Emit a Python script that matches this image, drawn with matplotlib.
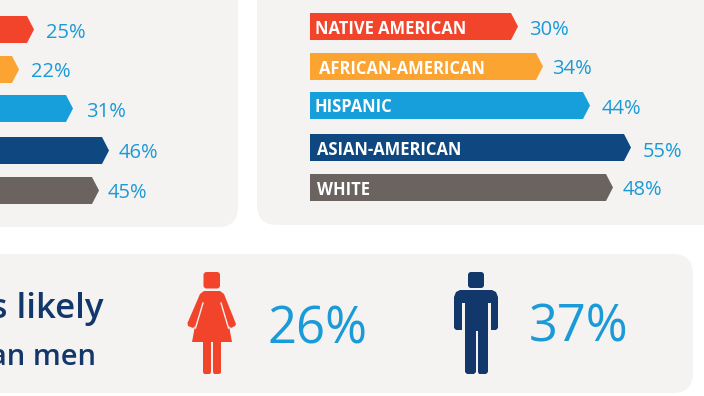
"""Bars by group and the women/men comparison, laid out on a pixel canvas."""
import matplotlib
matplotlib.use('Agg')
import matplotlib.pyplot as plt
from matplotlib.patches import FancyBboxPatch, Polygon


# Left panel is cropped by the frame, only the values are visible
left_values = [25, 22, 31, 46, 45]
left_bar_len = [94, 79, 133, 169, 159]

groups = ['NATIVE AMERICAN', 'AFRICAN-AMERICAN', 'HISPANIC', 'ASIAN-AMERICAN', 'WHITE']
right_values = [30, 34, 44, 55, 48]
right_bar_len = [208, 233, 280, 321, 303]

women_value = 26
men_value = 37

BAR_COLORS = ['#F2442B', '#FBA431', '#169FDB', '#0F4880', '#6B6360']
PANEL = '#F4F3F1'
TEXT_BLUE = '#1A9AD7'
NAVY = '#12376B'
FONT = 'Open Sans'

# baselines of the value labels / bar names differ a bit row to row in the original
LEFT_TOPS = [16, 56, 95, 137, 177]
LEFT_BASE = [38, 77, 117, 158, 198]
RIGHT_TOPS = [13, 53, 92, 134, 174]
RIGHT_BASE = [35, 74, 114, 157, 195]
NAME_BASE = [34, 74, 112, 155, 195]
NAME_X = [315, 319, 315, 317, 317]
LEFT_GAP = [12, 12, 13, 10, 9]
RIGHT_GAP = [11, 9, 12, 12, 10]
BAR_H = 27
NOTCH = 7


def panel(ax, x0, y0, x1, y1):
    ax.add_patch(FancyBboxPatch((x0 + 20, y0 + 20), x1 - x0 - 40, y1 - y0 - 40,
                                boxstyle='round,pad=20,rounding_size=20',
                                fc=PANEL, ec='none'))


def arrow_bar(ax, start, length, top, color):
    tip = start + length
    pts = [(start, top), (tip - NOTCH, top), (tip, top + BAR_H / 2),
           (tip - NOTCH, top + BAR_H), (start, top + BAR_H)]
    ax.add_patch(Polygon(pts, closed=True, fc=color, ec='none'))
    return tip


def woman(ax, color):
    ax.add_patch(FancyBboxPatch((205.5, 274), 12.5, 12.5, boxstyle='round,pad=2,rounding_size=3',
                                fc=color, ec='none'))
    body = [(204, 291), (220, 291), (224, 294), (236, 324), (235, 326), (231, 328),
            (229, 326), (232, 342), (221, 342), (221, 373), (219, 374), (214, 374),
            (213, 372), (213, 342), (211, 342), (211, 372), (210, 374), (204, 374),
            (203, 372), (203, 342), (192, 342), (195, 326), (193, 328), (188, 326),
            (187.5, 323), (200, 294)]
    ax.add_patch(Polygon(body, closed=True, fc=color, ec='none'))
    ax.plot([203, 195.5], [303, 328], color=PANEL, lw=1.0)
    ax.plot([221, 228.5], [303, 328], color=PANEL, lw=1.0)


def man(ax, color):
    ax.add_patch(FancyBboxPatch((470, 274), 12, 12, boxstyle='round,pad=2,rounding_size=3',
                                fc=color, ec='none'))
    body = [(460, 290), (492, 290), (496, 292), (498, 297), (498, 328), (496, 330),
            (491, 330), (491, 303), (488, 303), (488, 372), (486, 374), (479, 374),
            (478, 372), (478, 331), (476, 331), (476, 372), (474, 374), (467, 374),
            (465, 372), (465, 303), (462, 303), (462, 330), (456, 330), (454, 328),
            (454, 297), (456, 292)]
    ax.add_patch(Polygon(body, closed=True, fc=color, ec='none'))


fig = plt.figure(figsize=(7.04, 3.96), dpi=100)
ax = fig.add_axes([0, 0, 1, 1])
ax.set_xlim(0, 704)
ax.set_ylim(396, 0)
ax.axis('off')

panel(ax, -60, -60, 238, 227)
panel(ax, 257, -60, 760, 225)
panel(ax, -60, 254, 693, 393)

# left bars start outside the frame
for i, v in enumerate(left_values):
    tip = arrow_bar(ax, -60, left_bar_len[i], LEFT_TOPS[i], BAR_COLORS[i])
    ax.text(tip + LEFT_GAP[i], LEFT_BASE[i], f'{v}%', color=TEXT_BLUE, fontsize=14.5,
            family=FONT, va='baseline', ha='left')

for i, v in enumerate(right_values):
    tip = arrow_bar(ax, 310, right_bar_len[i], RIGHT_TOPS[i], BAR_COLORS[i])
    ax.text(NAME_X[i], NAME_BASE[i], groups[i], color='white', fontsize=11.9,
            family=FONT, weight='bold', va='baseline', ha='left')
    ax.text(tip + RIGHT_GAP[i], RIGHT_BASE[i], f'{v}%', color=TEXT_BLUE, fontsize=14.5,
            family=FONT, va='baseline', ha='left')

# sentence on the bottom panel runs off the frame on the left
ax.text(104, 318, 'less likely', color=NAVY, fontsize=25, family=FONT, weight='semibold',
        va='baseline', ha='right')
ax.text(96, 365, 'than men', color=NAVY, fontsize=21, family=FONT, weight='semibold',
        va='baseline', ha='right')

woman(ax, BAR_COLORS[0])
man(ax, NAVY)
ax.text(267, 343, f'{women_value}%', color=TEXT_BLUE, fontsize=36.5, family=FONT,
        va='baseline', ha='left')
ax.text(529, 341, f'{men_value}%', color=TEXT_BLUE, fontsize=36.5, family=FONT,
        va='baseline', ha='left')

fig.savefig('out.png', dpi=100, facecolor='white')
plt.close(fig)
